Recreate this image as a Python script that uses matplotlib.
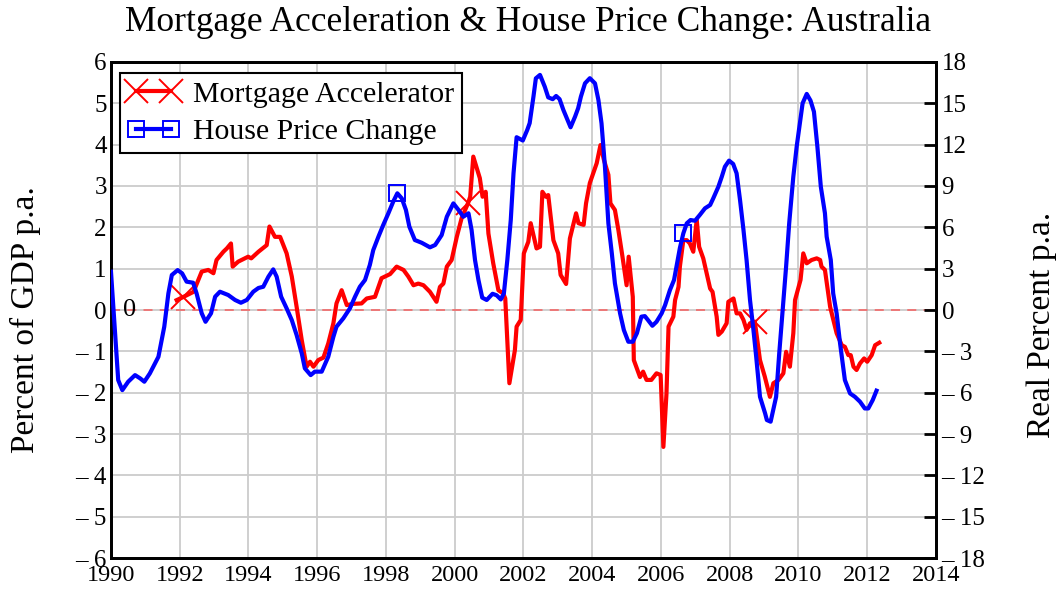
import numpy as np
import matplotlib
matplotlib.use("Agg")
from matplotlib import pyplot as plt

plt.rcParams['font.family'] = ['Liberation Serif', 'DejaVu Serif']

# Mortgage Accelerator, percent of GDP p.a. (left axis)
mort_years = [1991.91, 1992.09, 1992.40, 1992.64, 1992.83, 1992.98, 1993.07, 1993.27, 1993.37, 1993.49,
              1993.54, 1993.70, 1993.99, 1994.08, 1994.29, 1994.53, 1994.61, 1994.77, 1994.92, 1995.11,
              1995.26, 1995.40, 1995.55, 1995.69, 1995.79, 1995.89, 1996.03, 1996.18, 1996.32, 1996.47,
              1996.56, 1996.71, 1996.86, 1997.05, 1997.29, 1997.44, 1997.68, 1997.78, 1997.87, 1998.12,
              1998.31, 1998.51, 1998.65, 1998.80, 1998.94, 1999.09, 1999.28, 1999.47, 1999.57, 1999.67,
              1999.77, 1999.91, 2000.06, 2000.20, 2000.39, 2000.45, 2000.54, 2000.73, 2000.81, 2000.90,
              2000.98, 2001.12, 2001.27, 2001.41, 2001.47, 2001.59, 2001.75, 2001.80, 2001.92, 2002.01,
              2002.14, 2002.21, 2002.38, 2002.48, 2002.55, 2002.65, 2002.72, 2002.87, 2003.01, 2003.08,
              2003.24, 2003.35, 2003.53, 2003.60, 2003.75, 2003.82, 2003.93, 2004.13, 2004.24, 2004.34,
              2004.47, 2004.53, 2004.66, 2004.76, 2004.88, 2005.00, 2005.06, 2005.18, 2005.21, 2005.39,
              2005.48, 2005.58, 2005.72, 2005.87, 2005.99, 2006.07, 2006.16, 2006.22, 2006.36, 2006.41,
              2006.51, 2006.55, 2006.65, 2006.75, 2006.84, 2006.94, 2007.04, 2007.11, 2007.23, 2007.43,
              2007.50, 2007.62, 2007.67, 2007.77, 2007.91, 2007.96, 2008.11, 2008.20, 2008.30, 2008.40,
              2008.49, 2008.59, 2008.73, 2008.88, 2009.02, 2009.17, 2009.27, 2009.42, 2009.56, 2009.64,
              2009.75, 2009.85, 2009.90, 2010.06, 2010.14, 2010.24, 2010.38, 2010.53, 2010.63, 2010.67,
              2010.77, 2010.92, 2011.11, 2011.26, 2011.35, 2011.45, 2011.52, 2011.60, 2011.69, 2011.79,
              2011.91, 2012.00, 2012.13, 2012.23, 2012.35]
mort_vals = [0.24, 0.31, 0.44, 0.93, 0.97, 0.89, 1.21, 1.41, 1.49, 1.61,
             1.05, 1.17, 1.29, 1.25, 1.41, 1.57, 2.02, 1.77, 1.77, 1.37,
             0.81, 0.08, -0.73, -1.37, -1.25, -1.37, -1.21, -1.15, -0.81, -0.32,
             0.16, 0.48, 0.12, 0.15, 0.16, 0.28, 0.32, 0.56, 0.77, 0.87,
             1.05, 0.97, 0.81, 0.60, 0.64, 0.60, 0.44, 0.20, 0.56, 0.64,
             1.05, 1.21, 1.77, 2.22, 2.59, 2.74, 3.71, 3.19, 2.74, 2.86,
             1.85, 1.13, 0.48, 0.40, 0.28, -1.77, -0.97, -0.40, -0.24, 1.37,
             1.65, 2.10, 1.49, 1.53, 2.86, 2.74, 2.78, 1.69, 1.37, 0.85,
             0.63, 1.73, 2.34, 2.10, 2.06, 2.58, 3.07, 3.55, 3.99, 3.63,
             3.27, 2.58, 2.42, 1.94, 1.29, 0.60, 1.29, 0.32, -1.21, -1.62,
             -1.49, -1.69, -1.69, -1.53, -1.57, -3.31, -2.02, -0.40, -0.16, 0.24,
             0.56, 1.05, 1.69, 1.69, 1.61, 1.41, 2.18, 1.53, 1.25, 0.52,
             0.44, -0.16, -0.60, -0.52, -0.32, 0.20, 0.28, -0.08, -0.08, -0.24,
             -0.48, -0.32, -0.28, -1.21, -1.61, -2.10, -1.77, -1.69, -1.53, -1.01,
             -1.37, -0.56, 0.24, 0.73, 1.37, 1.13, 1.21, 1.25, 1.21, 1.05,
             0.97, 0.08, -0.56, -0.85, -0.89, -1.09, -1.09, -1.37, -1.45, -1.29,
             -1.17, -1.25, -1.09, -0.85, -0.79]

# House Price Change, real percent p.a. (right axis)
house_years = [1990.00, 1990.12, 1990.21, 1990.33, 1990.50, 1990.70, 1990.85, 1990.97, 1991.13, 1991.38,
               1991.55, 1991.67, 1991.77, 1991.94, 1992.07, 1992.20, 1992.39, 1992.49, 1992.64, 1992.75,
               1992.91, 1993.03, 1993.17, 1993.41, 1993.61, 1993.78, 1993.95, 1994.14, 1994.29, 1994.43,
               1994.58, 1994.72, 1994.82, 1994.95, 1995.11, 1995.26, 1995.40, 1995.55, 1995.64, 1995.81,
               1995.93, 1996.13, 1996.32, 1996.47, 1996.56, 1996.76, 1996.95, 1997.10, 1997.24, 1997.39,
               1997.53, 1997.63, 1997.78, 1997.92, 1998.07, 1998.21, 1998.33, 1998.46, 1998.58, 1998.68,
               1998.84, 1999.04, 1999.28, 1999.43, 1999.62, 1999.77, 1999.96, 2000.11, 2000.25, 2000.40,
               2000.49, 2000.59, 2000.69, 2000.80, 2000.93, 2001.10, 2001.22, 2001.34, 2001.43, 2001.53,
               2001.63, 2001.71, 2001.80, 2001.98, 2002.11, 2002.18, 2002.29, 2002.36, 2002.48, 2002.62,
               2002.72, 2002.85, 2002.95, 2003.05, 2003.16, 2003.28, 2003.37, 2003.50, 2003.59, 2003.67,
               2003.79, 2003.93, 2004.08, 2004.18, 2004.27, 2004.37, 2004.47, 2004.57, 2004.66, 2004.81,
               2004.92, 2005.05, 2005.18, 2005.30, 2005.43, 2005.53, 2005.62, 2005.75, 2005.87, 2006.02,
               2006.12, 2006.26, 2006.38, 2006.46, 2006.55, 2006.65, 2006.75, 2006.86, 2006.99, 2007.13,
               2007.28, 2007.43, 2007.52, 2007.67, 2007.77, 2007.86, 2007.98, 2008.10, 2008.20, 2008.30,
               2008.40, 2008.49, 2008.59, 2008.69, 2008.77, 2008.88, 2009.03, 2009.08, 2009.19, 2009.35,
               2009.44, 2009.54, 2009.64, 2009.73, 2009.85, 2009.95, 2010.04, 2010.12, 2010.24, 2010.35,
               2010.45, 2010.55, 2010.65, 2010.77, 2010.82, 2010.94, 2011.01, 2011.11, 2011.21, 2011.35,
               2011.50, 2011.64, 2011.79, 2011.93, 2012.03, 2012.16, 2012.27]
house_vals = [2.78, -1.69, -5.08, -5.81, -5.2, -4.72, -4.96, -5.2, -4.6, -3.39,
              -1.21, 1.21, 2.54, 2.9, 2.66, 2.06, 1.98, 1.21, -0.24, -0.85,
              -0.24, 0.97, 1.33, 1.09, 0.73, 0.53, 0.73, 1.33, 1.6, 1.69,
              2.42, 2.95, 2.42, 0.97, 0.12, -0.73, -1.81, -3.15, -4.23, -4.72,
              -4.47, -4.47, -3.39, -1.94, -1.21, -0.60, 0.12, 0.97, 1.69, 2.18,
              3.27, 4.35, 5.32, 6.17, 7.02, 7.86, 8.47, 8.1, 7.26, 6.05,
              5.08, 4.88, 4.55, 4.72, 5.44, 6.77, 7.74, 7.26, 6.77, 7.02,
              5.81, 3.63, 2.18, 0.9, 0.73, 1.18, 1.07, 0.77, 1.21, 3.63,
              6.53, 9.92, 12.54, 12.30, 13.07, 13.56, 15.48, 16.81, 17.06, 16.2,
              15.43, 15.3, 15.53, 15.3, 14.52, 13.79, 13.26, 14.03, 14.64, 15.48,
              16.45, 16.82, 16.45, 15.24, 13.55, 10.4, 6.29, 4.11, 1.94, -0.24,
              -1.45, -2.3, -2.3, -1.68, -0.48, -0.44, -0.72, -1.14, -0.85, -0.24,
              0.36, 1.45, 2.18, 3.27, 4.5, 5.56, 6.29, 6.53, 6.48, 6.9,
              7.38, 7.62, 8.1, 8.95, 9.68, 10.4, 10.84, 10.6, 9.92, 7.98,
              5.81, 3.63, 0.73, -1.45, -3.39, -6.29, -7.5, -7.98, -8.1, -6.29,
              -3.15, 0.0, 3.15, 6.29, 9.68, 11.9, 13.55, 15.0, 15.68, 15.2,
              14.39, 11.85, 8.95, 7.02, 5.32, 3.63, 1.21, -0.24, -2.42, -5.08,
              -6.05, -6.29, -6.65, -7.14, -7.14, -6.53, -5.85]

mort_marker_years = [1992.09, 2000.39, 2008.73]
house_marker_years = [1998.33, 2006.65]

x_ticks = list(range(1990, 2015, 2))
left_ticks = list(range(-6, 7))
left_labels = ["\u2013 6", "\u2013 5", "\u2013 4", "\u2013 3", "\u2013 2", "\u2013 1",
               "0", "1", "2", "3", "4", "5", "6"]
right_ticks = list(range(-18, 19, 3))
right_labels = ["\u2013 18", "\u2013 15", "\u2013 12", "\u2013 9", "\u2013 6", "\u2013 3",
                "0", "3", "6", "9", "12", "15", "18"]


def marker_idx(years, wanted):
    years = np.asarray(years)
    return [int(np.argmin(np.abs(years - w))) for w in wanted]


fig = plt.figure(figsize=(10.57, 5.90), dpi=100)
ax = fig.add_axes([0.105, 0.054, 0.7805, 0.841])
ax2 = ax.twinx()

ax.set_xlim(1990, 2014)
ax.set_ylim(-6, 6)
ax2.set_ylim(-18, 18)

ax.grid(True, color="#cccccc", linewidth=1.3)
ax.set_axisbelow(True)
ax.axhline(0, color="#f07070", linestyle=(0, (5, 4)), linewidth=1.3, zorder=1)
ax.text(1990.35, 0, "0", fontsize=19, va="center", ha="left")

ax.plot(mort_years, mort_vals, color="#ff0000", linewidth=3,
        marker="x", markersize=17, markeredgewidth=1.4,
        markevery=marker_idx(mort_years, mort_marker_years),
        label="Mortgage Accelerator", zorder=3)
ax2.plot(house_years, house_vals, color="#0000ff", linewidth=3,
         marker="s", markersize=12, markeredgewidth=1.4, markerfacecolor="none",
         markevery=marker_idx(house_years, house_marker_years),
         label="House Price Change", zorder=3)

ax.set_xticks(x_ticks)
ax.set_xticklabels([str(y) for y in x_ticks])
ax.set_yticks(left_ticks)
ax.set_yticklabels(left_labels)
ax2.set_yticks(right_ticks)
ax2.set_yticklabels(right_labels)

ax.tick_params(axis="x", length=0, pad=5, labelsize=17.5)
ax.tick_params(axis="y", length=0, pad=3, labelsize=18)
ax2.tick_params(axis="y", direction="in", length=9, width=2, pad=4, labelsize=18)

for a in (ax, ax2):
    for s in a.spines.values():
        s.set_linewidth(2)

ax.set_ylabel("Percent of GDP p.a.", fontsize=24, va="center")
ax.yaxis.set_label_coords(-0.104, 0.48)
ax2.set_ylabel("Real Percent p.a.", fontsize=24, va="center")
ax2.yaxis.set_label_coords(1.128, 0.47)
fig.text(0.5, 0.962, "Mortgage Acceleration & House Price Change: Australia",
         fontsize=25.5, ha="center", va="center")

h1, l1 = ax.get_legend_handles_labels()
h2, l2 = ax2.get_legend_handles_labels()
leg = ax2.legend(h1 + h2, l1 + l2, loc="upper left", bbox_to_anchor=(0.011, 0.977),
                 fontsize=21.5, numpoints=2, handlelength=1.75, handletextpad=0.45,
                 borderpad=0.25, labelspacing=0.35, fancybox=False, framealpha=1,
                 edgecolor="black", borderaxespad=0)
leg.get_frame().set_linewidth(1.5)

fig.savefig("out.png", dpi=100)
